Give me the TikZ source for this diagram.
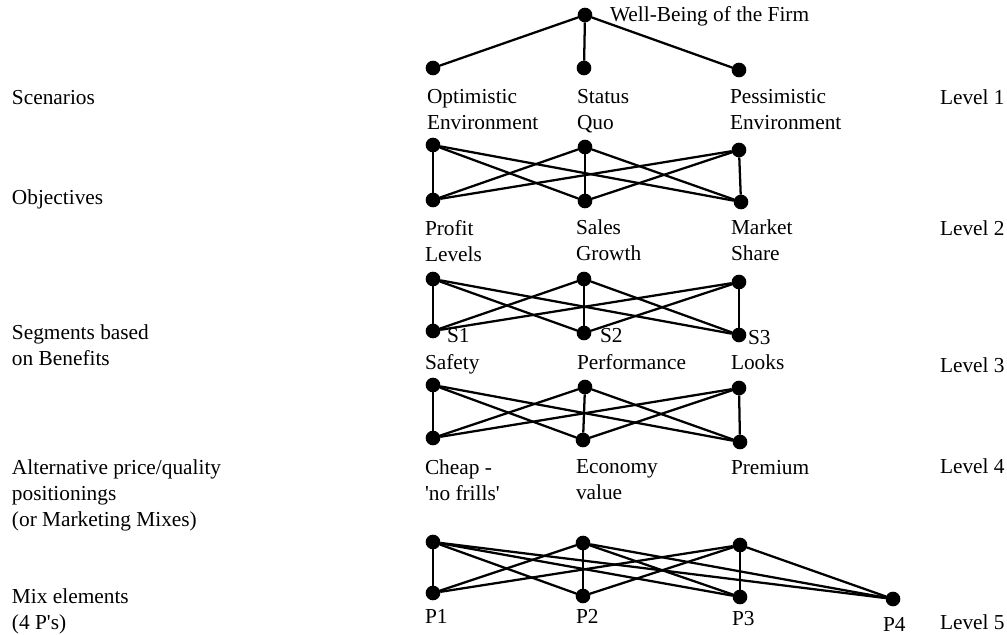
\documentclass[tikz,border=0pt]{standalone}
\usepackage{fontspec}
\setmainfont{Liberation Serif}
\usetikzlibrary{
  positioning
}
\tikzset{
  % For the fat dots of the hierarchy.
  dot/.style={
    circle,
    fill,
    inner sep=0pt,
    outer sep=0pt,
    minimum size=11pt},
%
  % For the lines between two dots.
  link/.style={
    line width=1.7pt},
%
  % For texts of one or more lines, placed by their top left corner.
  caption/.style={
    inner sep=0pt,
    outer sep=0pt,
    anchor=north west,
    align=left,
    font=\fontsize{16pt}{19.5pt}\selectfont},
%
  % For texts of one line, placed on their baseline.
  tag/.style={
    caption,
    anchor=base west}
}

\begin{document}
\begin{tikzpicture}[x=0.75pt,y=-0.75pt]
  \useasboundingbox (0,0) rectangle (1007,635);

  % The goal at the top and the three scenarios.
  \node[dot] (firm) at (585,15) {};
  \node[tag] (firmtext) at (610,22) {Well-Being of the Firm};
  \foreach \i/\x/\y in {1/433/68, 2/584/68, 3/739/70}
    {\node[dot] (scen\i) at (\x,\y) {};
     \draw[link] (firm) -- (scen\i);}

  % Dots of the four bands; 'x' marks the upper row of a band.
  \foreach \i/\x/\y in {1/433/145, 2/585/147, 3/739/150}
    \node[dot] (scenx\i) at (\x,\y) {};
  \foreach \i/\x/\y in {1/433/200, 2/585/201, 3/741/202}
    \node[dot] (obj\i) at (\x,\y) {};
  \foreach \i/\x/\y in {1/433/279, 2/584/279, 3/739/282}
    \node[dot] (objx\i) at (\x,\y) {};
  \foreach \i/\x/\y in {1/433/331, 2/584/333, 3/739/335}
    \node[dot] (seg\i) at (\x,\y) {};
  \foreach \i/\x/\y in {1/433/385, 2/585/387, 3/739/388}
    \node[dot] (segx\i) at (\x,\y) {};
  \foreach \i/\x/\y in {1/433/438, 2/583/440, 3/740/442}
    \node[dot] (pos\i) at (\x,\y) {};
  \foreach \i/\x/\y in {1/433/542, 2/583/543, 3/740/545}
    \node[dot] (posx\i) at (\x,\y) {};
  \foreach \i/\x/\y in {1/433/593, 2/583/596, 3/740/597, 4/893/599}
    \node[dot] (mix\i) at (\x,\y) {};

  % Every upper dot of a band is linked to every lower dot.
  \foreach \u in {1,2,3}
    {\foreach \v in {1,2,3}
       {\draw[link] (scenx\u) -- (obj\v);
        \draw[link] (objx\u) -- (seg\v);
        \draw[link] (segx\u) -- (pos\v);}
     \foreach \v in {1,2,3,4}
       \draw[link] (posx\u) -- (mix\v);}

  % Texts under the dots.
  \node[caption] (lscen1) at (427,89) {Optimistic\\Environment};
  \node[caption] (lscen2) at (577,89) {Status\\Quo};
  \node[caption] (lscen3) at (730,89) {Pessimistic\\Environment};
  \node[caption] (lobj1) at (425,220) {Profit\\Levels};
  \node[caption] (lobj2) at (576,220) {Sales\\Growth};
  \node[caption] (lobj3) at (731,220) {Market\\Share};
  \node[tag] (sname1) at (447,342) {S1};
  \node[tag] (sname2) at (600,342) {S2};
  \node[tag] (sname3) at (748,344) {S3};
  \node[tag] (lseg1) at (425,369) {Safety};
  \node[tag] (lseg2) at (577,369) {Performance};
  \node[tag] (lseg3) at (731,369) {Looks};
  \node[caption] (lpos1) at (425,460) {Cheap -\\\textquotesingle no frills\textquotesingle};
  \node[caption] (lpos2) at (576,460) {Economy\\value};
  \node[caption] (lpos3) at (731,460) {Premium};
  \node[tag] (lmix1) at (425,623) {P1};
  \node[tag] (lmix2) at (576,623) {P2};
  \node[tag] (lmix3) at (732,625) {P3};
  \node[tag] (lmix4) at (883,631) {P4};

  % Left column: what each band stands for.
  \node[tag] (kind1) at (12,104) {Scenarios};
  \node[tag] (kind2) at (12,204) {Objectives};
  \node[caption] (kind3) at (12,325) {Segments based\\on Benefits};
  \node[caption] (kind4) at (12,460) {Alternative price/quality\\positionings\\(or Marketing Mixes)};
  \node[caption] (kind5) at (12,589) {Mix elements\\(4 P\textquotesingle s)};

  % Right column: the levels.
  \node[tag] (level1) at (940,104) {Level 1};
  \node[tag] (level2) at (940,235) {Level 2};
  \node[tag] (level3) at (940,372) {Level 3};
  \node[tag] (level4) at (940,473) {Level 4};
  \node[tag] (level5) at (940,629) {Level 5};
\end{tikzpicture}
\end{document}
